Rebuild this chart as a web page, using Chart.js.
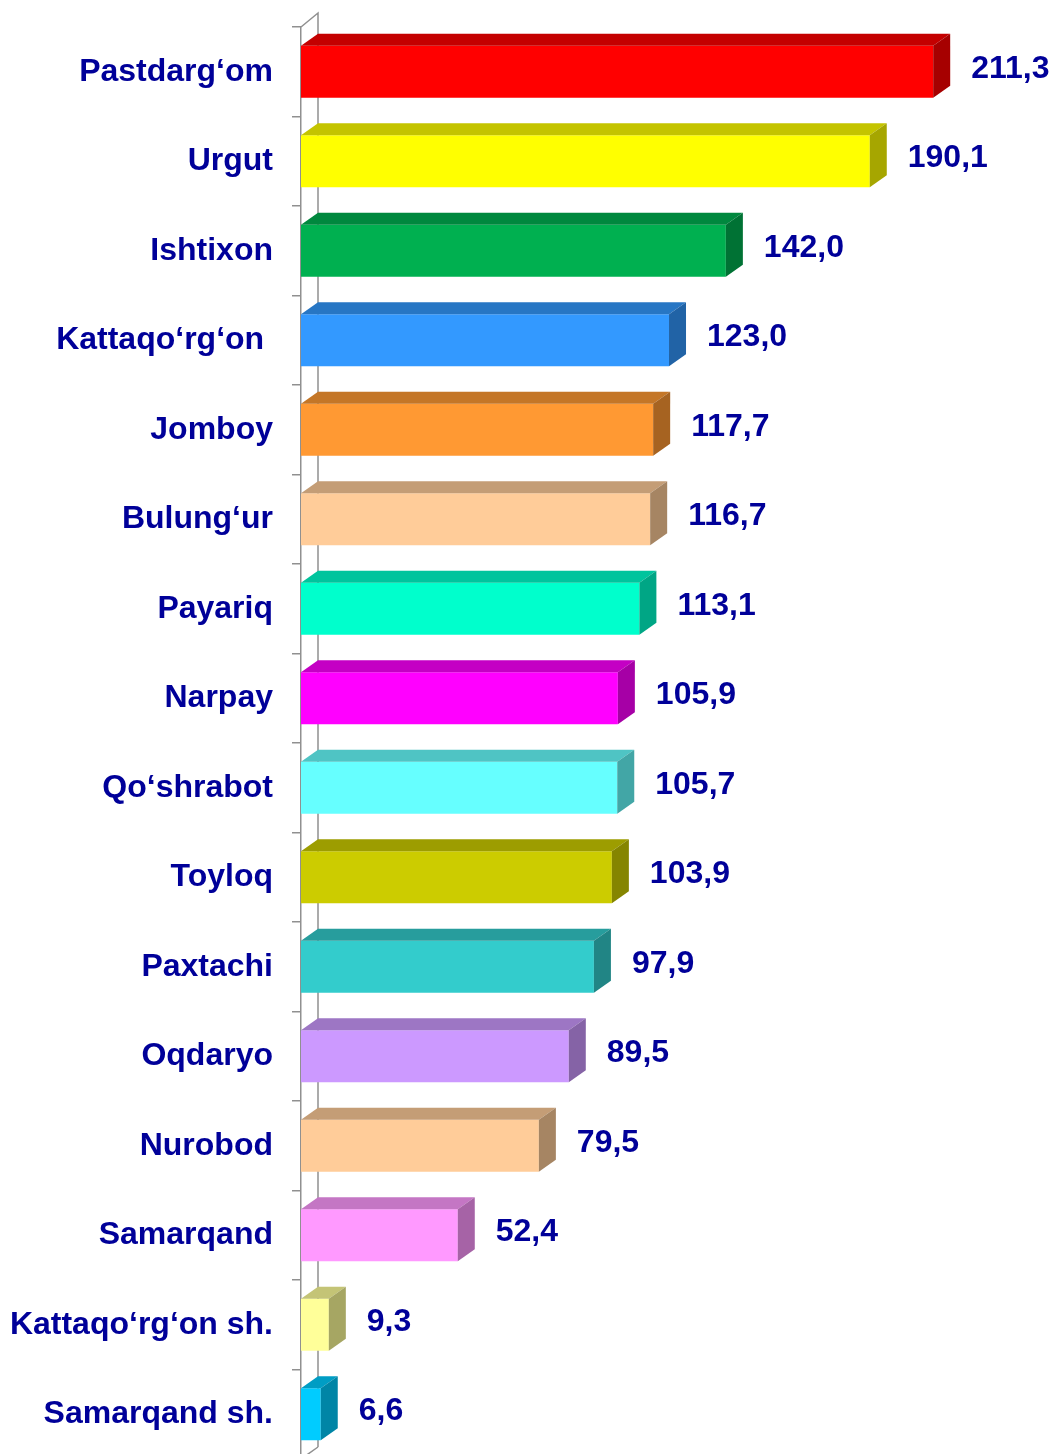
<!DOCTYPE html>
<html>
<head>
<meta charset="utf-8">
<script src="https://cdn.jsdelivr.net/npm/chart.js@4/dist/chart.umd.min.js"></script>
<style>
  html, body { margin: 0; padding: 0; background: #ffffff; overflow: hidden; }
  #wrap { width: 1054px; height: 1454px; position: relative; }
</style>
</head>
<body>
<div id="wrap"><canvas id="c"></canvas></div>
<script>
const categories = [
  "Pastdarg\u2018om", "Urgut", "Ishtixon", "Kattaqo\u2018rg\u2018on ", "Jomboy",
  "Bulung\u2018ur", "Payariq", "Narpay", "Qo\u2018shrabot", "Toyloq",
  "Paxtachi", "Oqdaryo", "Nurobod", "Samarqand", "Kattaqo\u2018rg\u2018on sh.", "Samarqand sh."
];
const values = [211.3, 190.1, 142.0, 123.0, 117.7, 116.7, 113.1, 105.9, 105.7, 103.9, 97.9, 89.5, 79.5, 52.4, 9.3, 6.6];
const barColors = [
  "#FF0000", "#FFFF00", "#00B050", "#3399FF", "#FF9933",
  "#FFCC99", "#00FFCC", "#FF00FF", "#66FFFF", "#CCCC00",
  "#33CCCC", "#CC99FF", "#FFCC99", "#FF99FF", "#FFFF99", "#00CCFF"
];

const TEXT_COLOR = "#000099";
const FONT_FAMILY = "'Liberation Sans', Arial, Helvetica, sans-serif";
const DEPTH_X = 17;
const DEPTH_Y = 12;
const AREA_OVERHANG = 5; // plot floor sits just below the picture edge

function shade(hex, f) {
  const n = parseInt(hex.slice(1), 16);
  const r = Math.round(((n >> 16) & 255) * f);
  const g = Math.round(((n >> 8) & 255) * f);
  const b = Math.round((n & 255) * f);
  return "rgb(" + r + "," + g + "," + b + ")";
}

const threeD = {
  id: "threeD",
  afterLayout(chart) {
    const y = chart.scales.y;
    const newBottom = chart.height + AREA_OVERHANG;
    y.bottom = newBottom;
    y.height = y.bottom - y.top;
    y.configure();
    chart.chartArea.bottom = newBottom;
    chart.chartArea.height = newBottom - chart.chartArea.top;
  },
  beforeDatasetsDraw(chart) {
    const ctx = chart.ctx;
    const a = chart.chartArea;
    ctx.save();
    ctx.strokeStyle = "#909090";
    ctx.lineWidth = 1.5;
    ctx.beginPath();
    ctx.moveTo(a.left, a.top);
    ctx.lineTo(a.left + DEPTH_X, a.top - DEPTH_Y - 2);
    ctx.lineTo(a.left + DEPTH_X, a.bottom - DEPTH_Y);
    ctx.moveTo(a.left, a.bottom);
    ctx.lineTo(a.left + DEPTH_X, a.bottom - DEPTH_Y);
    ctx.stroke();
    ctx.restore();
  },
  afterDatasetsDraw(chart) {
    const ctx = chart.ctx;
    const meta = chart.getDatasetMeta(0);
    ctx.save();
    meta.data.forEach((el, i) => {
      const p = el.getProps(["x", "y", "base", "height"], true);
      const top = p.y - p.height / 2;
      const bot = p.y + p.height / 2;
      const col = barColors[i];
      ctx.fillStyle = shade(col, 0.77);
      ctx.beginPath();
      ctx.moveTo(p.base, top);
      ctx.lineTo(p.x, top);
      ctx.lineTo(p.x + DEPTH_X, top - DEPTH_Y);
      ctx.lineTo(p.base + DEPTH_X, top - DEPTH_Y);
      ctx.closePath();
      ctx.fill();
      ctx.fillStyle = shade(col, 0.65);
      ctx.beginPath();
      ctx.moveTo(p.x, top);
      ctx.lineTo(p.x + DEPTH_X, top - DEPTH_Y);
      ctx.lineTo(p.x + DEPTH_X, bot - DEPTH_Y);
      ctx.lineTo(p.x, bot);
      ctx.closePath();
      ctx.fill();
      ctx.fillStyle = TEXT_COLOR;
      ctx.font = "bold 32px " + FONT_FAMILY;
      ctx.textAlign = "left";
      ctx.textBaseline = "middle";
      ctx.fillText(values[i].toFixed(1).replace(".", ","), p.x + DEPTH_X + 21, p.y - 3);
    });
    ctx.restore();
  }
};

new Chart(document.getElementById("c"), {
  type: "bar",
  data: {
    labels: categories,
    datasets: [{
      data: values,
      backgroundColor: barColors,
      borderWidth: 0,
      categoryPercentage: 1.0,
      barPercentage: 0.58
    }]
  },
  options: {
    indexAxis: "y",
    responsive: true,
    maintainAspectRatio: false,
    animation: false,
    layout: { padding: { top: 27, bottom: 0, left: 0, right: 5 } },
    plugins: { legend: { display: false }, tooltip: { enabled: false } },
    scales: {
      x: {
        display: false,
        min: 0,
        max: 250
      },
      y: {
        afterFit(scale) {
          scale.width = 301;
          scale.paddingTop = 0;
          scale.paddingBottom = 0;
        },
        grid: {
          offset: true,
          drawOnChartArea: false,
          drawTicks: true,
          tickLength: 9,
          color: "#909090",
          lineWidth: 1.5
        },
        border: { display: true, color: "#909090", width: 1.5 },
        ticks: {
          padding: 19,
          color: TEXT_COLOR,
          font: { family: FONT_FAMILY, size: 32, weight: "bold" },
          autoSkip: false
        }
      }
    }
  },
  plugins: [threeD]
});
</script>
</body>
</html>
